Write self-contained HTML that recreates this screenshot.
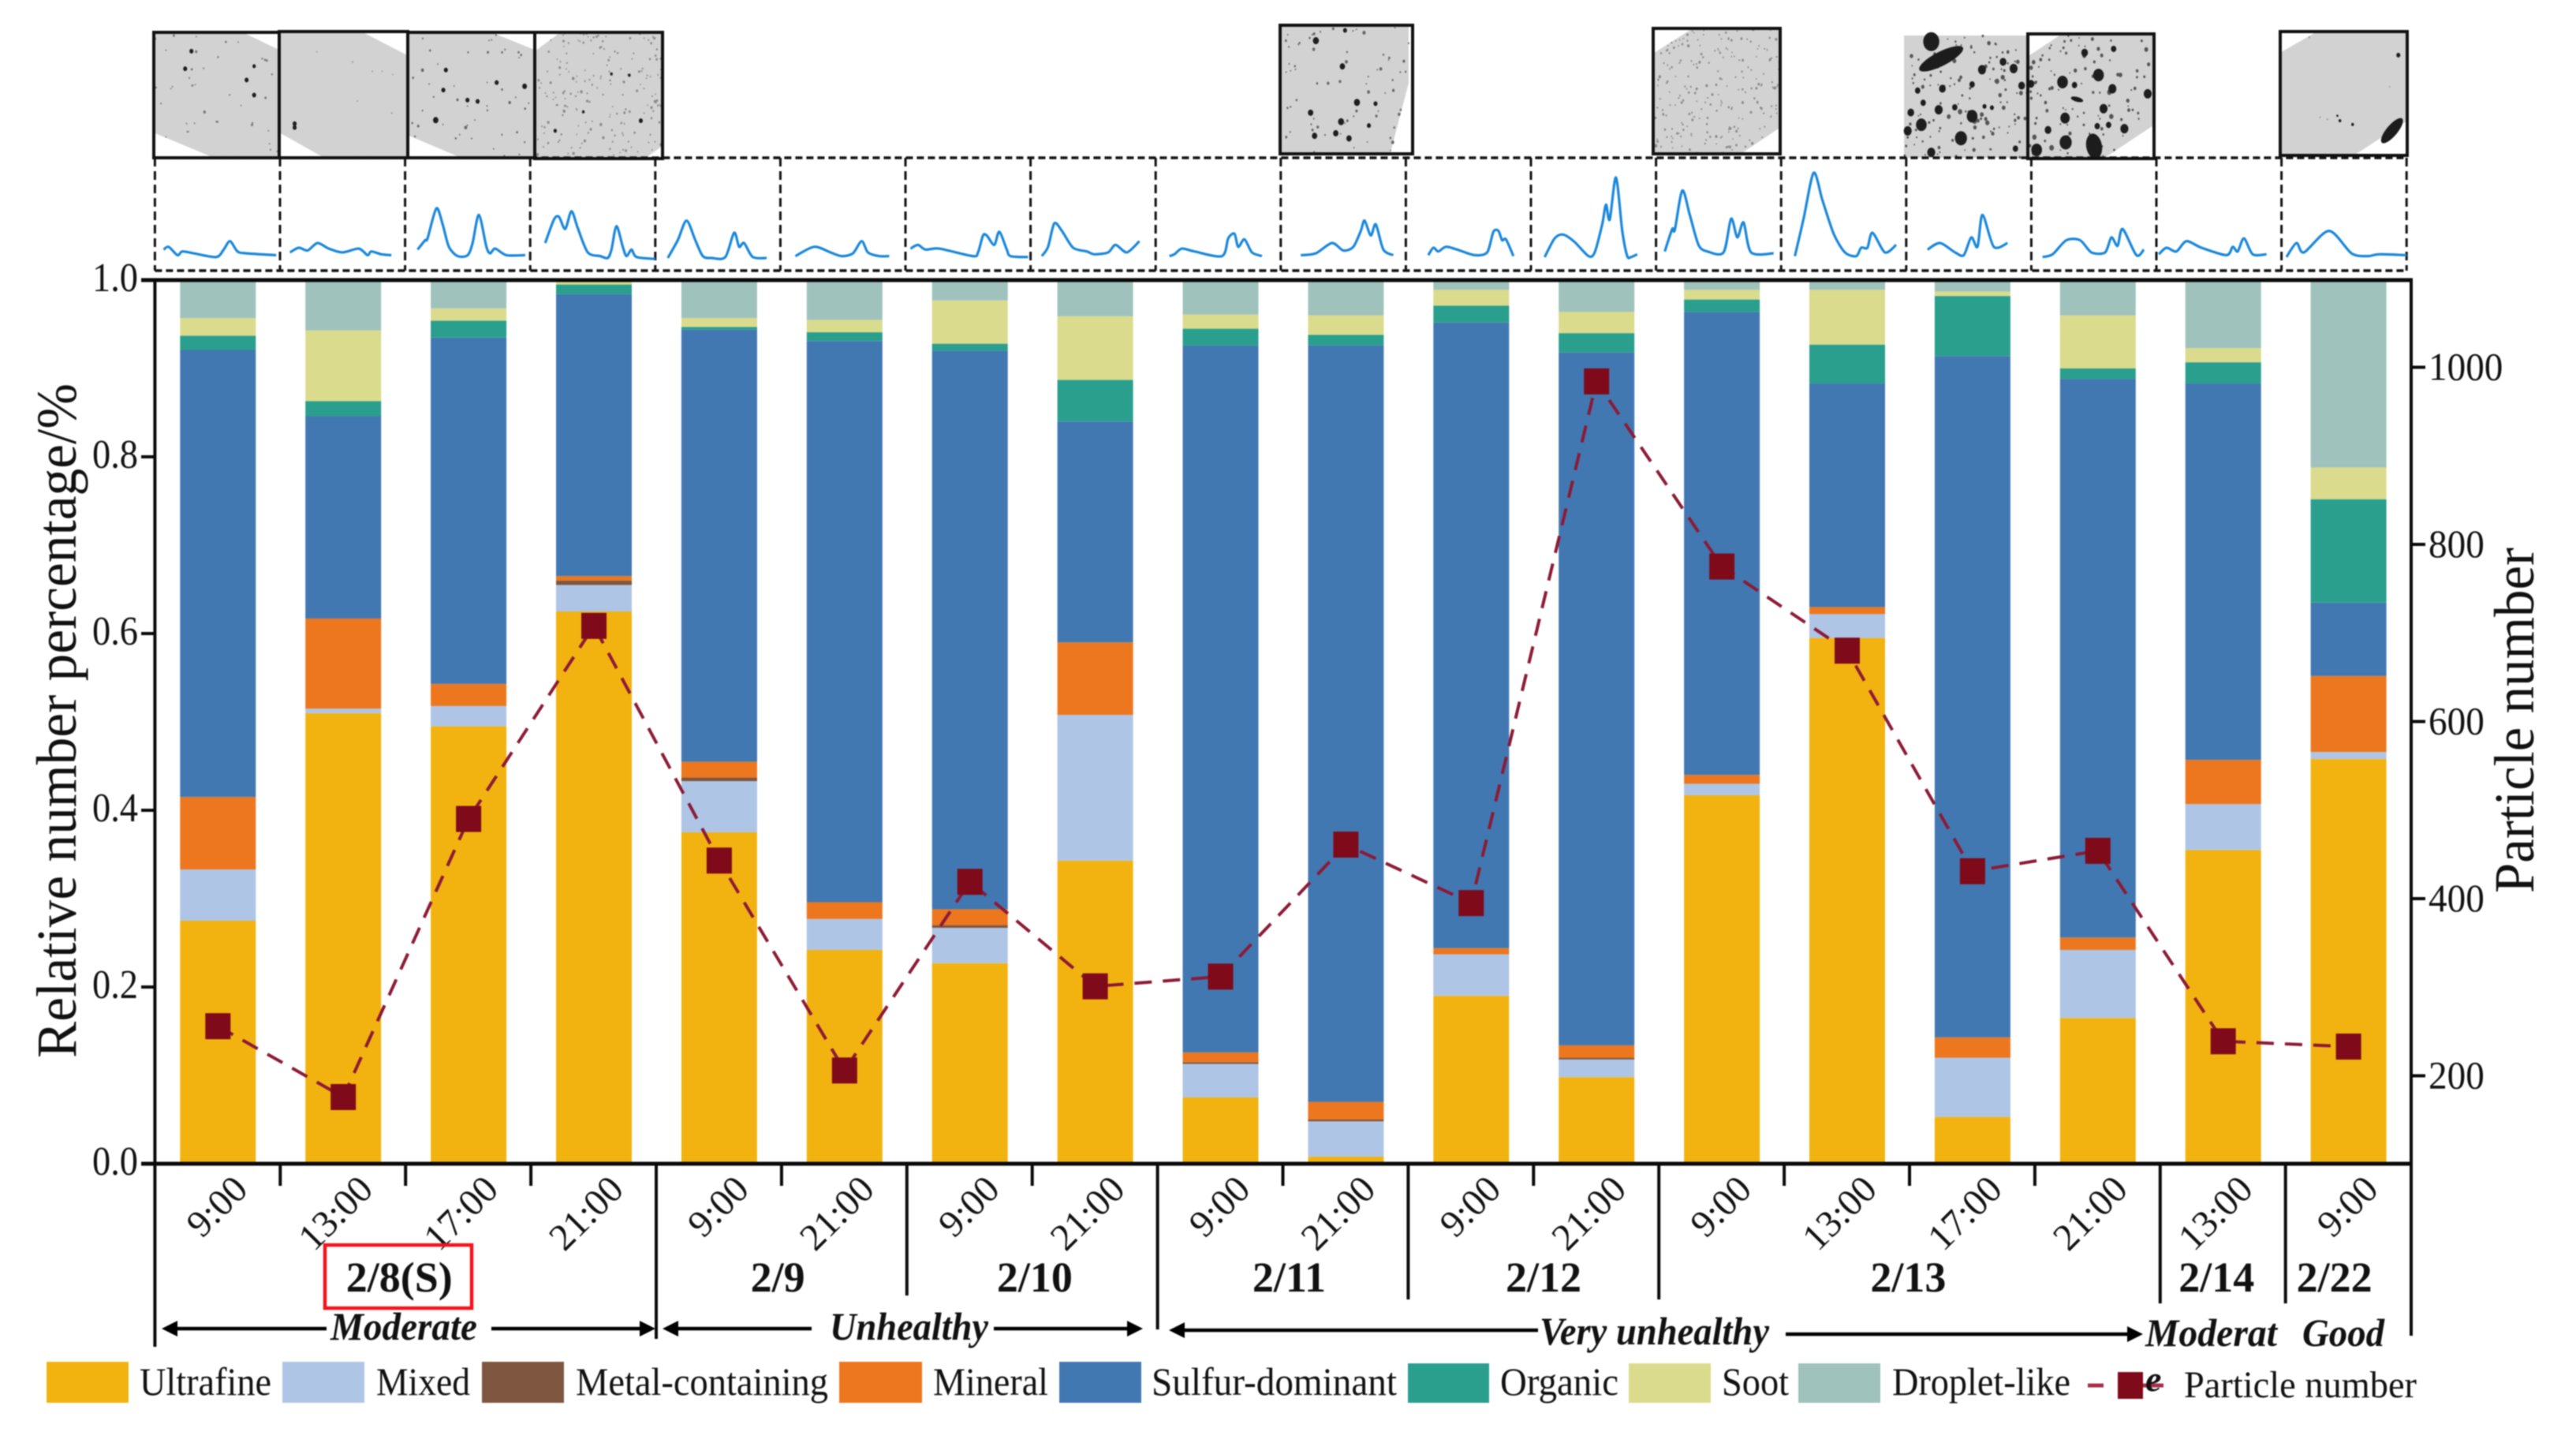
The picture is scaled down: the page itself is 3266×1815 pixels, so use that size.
<!DOCTYPE html>
<html lang="en">
<head>
<meta charset="utf-8">
<title>Particle types and number</title>
<style>
html,body{margin:0;padding:0;background:#fff;width:3266px;height:1815px;overflow:hidden}
svg{display:block;filter:blur(.7px)}
text{font-family:"Liberation Serif",serif;fill:#111}
</style>
</head>
<body>
<svg id="chart" xmlns="http://www.w3.org/2000/svg" width="3266" height="1815" viewBox="0 0 3266 1815">
  <g id="tem"></g>
  <g id="spectra"></g>
  <g id="bars"></g>
  <g id="line"></g>
  <g id="axes"></g>

  <text transform="translate(96,1341) rotate(-90)" font-size="72" textLength="855" lengthAdjust="spacingAndGlyphs">Relative number percentage/%</text>
  <text transform="translate(3212,1132) rotate(-90)" font-size="72" textLength="438" lengthAdjust="spacingAndGlyphs">Particle number</text>

  <rect x="412" y="1578" width="186" height="80" fill="none" stroke="#f0141e" stroke-width="4.5"/>

  <g font-weight="bold" font-style="italic" font-size="50">
    <text x="419" y="1698" textLength="186" lengthAdjust="spacingAndGlyphs">Moderate</text>
    <text x="1052" y="1698" textLength="201" lengthAdjust="spacingAndGlyphs">Unhealthy</text>
    <text x="1952" y="1704" textLength="291" lengthAdjust="spacingAndGlyphs">Very unhealthy</text>
    <text x="2720" y="1706" textLength="167" lengthAdjust="spacingAndGlyphs">Moderat</text>
    <text x="2919" y="1706" textLength="104" lengthAdjust="spacingAndGlyphs">Good</text>
  </g>

  <g stroke="#000" stroke-width="4.5" fill="#000">
    <line x1="414" y1="1684" x2="215" y2="1684"/><path d="M205 1684l20-10v20z" stroke="none"/>
    <line x1="623" y1="1684" x2="822" y2="1684"/><path d="M831 1684l-20-10v20z" stroke="none"/>
    <line x1="1029" y1="1684" x2="850" y2="1684"/><path d="M840 1684l20-10v20z" stroke="none"/>
    <line x1="1260" y1="1684" x2="1440" y2="1684"/><path d="M1449 1684l-20-10v20z" stroke="none"/>
    <line x1="1950" y1="1686" x2="1492" y2="1686"/><path d="M1482 1686l20-10v20z" stroke="none"/>
    <line x1="2264" y1="1691" x2="2708" y2="1691"/><path d="M2717 1691l-20-10v20z" stroke="none"/>
  </g>

  <g font-size="50">
    <g><rect x="59" y="1726" width="104" height="52" fill="#f2b311"/><text x="177" y="1768" textLength="167" lengthAdjust="spacingAndGlyphs">Ultrafine</text></g>
    <g><rect x="358" y="1726" width="104" height="52" fill="#aec5e6"/><text x="477" y="1768" textLength="119" lengthAdjust="spacingAndGlyphs">Mixed</text></g>
    <g><rect x="611" y="1726" width="104" height="52" fill="#7f563f"/><text x="730" y="1768" textLength="320" lengthAdjust="spacingAndGlyphs">Metal-containing</text></g>
    <g><rect x="1064" y="1726" width="105" height="52" fill="#ec771e"/><text x="1183" y="1768" textLength="146" lengthAdjust="spacingAndGlyphs">Mineral</text></g>
    <g><rect x="1343" y="1726" width="104" height="52" fill="#4278b1"/><text x="1460" y="1768" textLength="311" lengthAdjust="spacingAndGlyphs">Sulfur-dominant</text></g>
    <g><rect x="1785" y="1728" width="103" height="50" fill="#2a9f8d"/><text x="1902" y="1768" textLength="150" lengthAdjust="spacingAndGlyphs">Organic</text></g>
    <g><rect x="2065" y="1728" width="104" height="50" fill="#dadb8c"/><text x="2183" y="1768" textLength="85" lengthAdjust="spacingAndGlyphs">Soot</text></g>
    <g><rect x="2280" y="1728" width="104" height="50" fill="#9fc3bc"/><text x="2399" y="1768" textLength="226" lengthAdjust="spacingAndGlyphs">Droplet-like</text></g>
    <g>
      <line x1="2647" y1="1756" x2="2667" y2="1756" stroke="#a8304c" stroke-width="5"/>
      <line x1="2717" y1="1756" x2="2743" y2="1756" stroke="#a8304c" stroke-width="5"/>
      <rect x="2685" y="1739" width="32" height="34" fill="#7f0a1a"/>
      <text x="2720" y="1763" font-size="46" font-weight="bold" font-style="italic">e</text>
      <text x="2769" y="1771" font-size="48" textLength="295" lengthAdjust="spacingAndGlyphs">Particle number</text>
    </g>
  </g>
</svg>

<script>
// ---- chart data ----
const timeLabels = ["9:00","13:00","17:00","21:00","9:00","21:00","9:00","21:00","9:00","21:00","9:00","21:00","9:00","13:00","17:00","21:00","13:00","9:00"];
const ultrafine = [.275,.51,.495,.625,.375,.242,.227,.343,.075,.008,.19,.098,.417,.595,.053,.165,.355,.458];
const mixed     = [.058,.005,.023,.03,.058,.035,.04,.165,.038,.04,.047,.02,.013,.027,.067,.077,.052,.008];
const metal     = [0,0,0,.005,.004,0,.003,0,.002,.002,0,.002,0,0,0,0,0,0];
const mineral   = [.082,.102,.025,.005,.018,.019,.018,.082,.011,.02,.007,.014,.01,.008,.023,.014,.05,.086];
const sulfur    = [.506,.229,.392,.319,.489,.635,.632,.25,.8,.856,.708,.784,.524,.253,.771,.632,.426,.083];
const organic   = [.016,.017,.019,.011,.003,.01,.008,.047,.019,.012,.019,.022,.014,.044,.068,.012,.024,.117];
const soot      = [.02,.08,.014,.003,.01,.014,.049,.072,.016,.022,.018,.024,.011,.062,.005,.06,.016,.036];
const droplet   = [.043,.057,.032,.002,.043,.045,.023,.041,.039,.04,.011,.036,.011,.011,.013,.04,.077,.212];
const particleNumber = [256,176,490,708,443,206,419,301,312,461,395,984,775,680,431,454,239,233];
const leftTicks = ["0.0","0.2","0.4","0.6","0.8","1.0"];
const rightTicks = ["200","400","600","800","1000"];
const dateLabels = ["2/8(S)","2/9","2/10","2/11","2/12","2/13","2/14","2/22"];
const dateSlots = [1.95,4.97,7.02,9.05,11.08,13.99,16.45,17.39];

// spectra: [channel 0-100, relative intensity] traced per sample
const spectraData = [
[[7,20],[11,23],[18,14],[22,18],[31,16],[49,12],[55,20],[60,29],[66,18],[73,16],[97,14]],
[[8,17],[15,22],[22,19],[30,27],[39,21],[50,17],[63,21],[70,14],[73,18],[81,15],[89,14]],
[[10,20],[16,30],[18,32],[25,64],[30,47],[35,23],[42,13],[50,14],[54,27],[59,57],[65,23],[68,16],[72,21],[81,14],[96,14]],
[[12,27],[19,52],[23,55],[28,42],[33,61],[38,43],[46,17],[56,13],[62,11],[65,20],[69,45],[74,23],[77,13],[81,20],[85,12],[100,10]],
[[10,11],[18,30],[25,51],[32,30],[38,13],[45,11],[56,12],[63,38],[67,23],[71,27],[78,12],[89,11]],
[[12,13],[27,23],[40,17],[49,13],[58,16],[65,29],[70,17],[79,13],[87,13]],
[[4,21],[10,25],[16,20],[27,21],[54,13],[58,17],[62,35],[65,35],[71,25],[75,39],[81,20],[84,13],[98,12]],
[[9,13],[14,23],[19,48],[25,40],[34,22],[45,18],[51,15],[62,17],[68,25],[77,17],[87,29]],
[[11,13],[15,15],[21,21],[31,18],[53,13],[58,32],[63,37],[66,23],[71,31],[77,17],[85,13]],
[[16,14],[28,16],[41,27],[50,19],[58,23],[64,40],[67,51],[72,35],[76,47],[82,20],[90,14]],
[[18,14],[22,22],[26,18],[32,23],[41,20],[55,14],[65,17],[70,39],[74,40],[77,30],[80,31],[86,13]],
[[11,12],[19,32],[26,36],[35,28],[46,13],[51,17],[57,47],[60,68],[63,52],[68,97],[73,40],[77,13],[80,12],[85,15]],
[[7,18],[13,42],[15,41],[21,83],[27,57],[34,25],[41,18],[54,17],[60,53],[65,33],[70,49],[76,17],[94,16]],
[[11,13],[18,53],[26,102],[33,73],[42,37],[51,17],[60,13],[64,22],[69,22],[73,38],[83,17],[92,25]],
[[17,20],[27,27],[39,17],[46,14],[52,33],[57,23],[61,57],[70,23],[81,27]],
[[9,12],[17,15],[28,30],[39,30],[48,17],[59,17],[64,33],[69,24],[73,42],[84,14],[90,20]],
[[2,15],[8,22],[16,18],[24,29],[36,22],[56,14],[61,23],[65,18],[70,32],[77,15],[88,15]],
[[4,12],[12,27],[18,17],[38,40],[56,16],[69,13],[78,15],[100,14]]
];

// ---- scales ----
const svgNS = "http://www.w3.org/2000/svg";
const yTop = 355, yBottom = 1475, axisLeft = 196.4, axisRight = 3057;
const firstBar = 276.3, barStep = 158.9, barWidth = 96;
const gridStep = 158.9, specStep = 158.6;
const countMin = 100.7, countMax = 1098.4;
const yPct = v => yBottom - v * (yBottom - yTop);
const yCount = c => yBottom - (c - countMin) / (countMax - countMin) * (yBottom - yTop);
const xBar = i => firstBar + i * barStep;
const xGrid = k => axisLeft + k * gridStep;
const xSpec = (k, ch) => axisLeft + k * specStep + ch / 100 * specStep;
const ySpec = inten => (860 - 3 * inten) / 2.529;

function mk(tag, parent, attrs) {
  const el = document.createElementNS(svgNS, tag);
  for (const k in attrs) el.setAttribute(k, attrs[k]);
  parent.appendChild(el);
  return el;
}

// ---- stacked bars ----
const stackOrder = [
  ["ultrafine", ultrafine, "#f2b311"],
  ["mixed", mixed, "#aec5e6"],
  ["metal", metal, "#7f563f"],
  ["mineral", mineral, "#ec771e"],
  ["sulfur", sulfur, "#4278b1"],
  ["organic", organic, "#2a9f8d"],
  ["soot", soot, "#dadb8c"],
  ["droplet", droplet, "#9fc3bc"]
];
const barsG = document.getElementById("bars");
timeLabels.forEach((t, i) => {
  let cum = 0;
  stackOrder.forEach(s => {
    const v = s[1][i];
    const r = mk("rect", barsG, {x: xBar(i) - barWidth / 2, y: yPct(cum + v), width: barWidth, height: Math.max(0, yPct(cum) - yPct(cum + v)), fill: s[2]});
    
    
    cum += v;
  });
});

// ---- particle number line ----
const lineG = document.getElementById("line");
const lineEl = mk("polyline", lineG, {
  points: particleNumber.map((c, i) => xBar(i) + "," + yCount(c)).join(" "),
  fill: "none", stroke: "#8b1a36", "stroke-width": 4, "stroke-dasharray": "22 14"
});


particleNumber.forEach((c, i) => {
  const m = mk("rect", lineG, {x: xBar(i) - 16, y: yCount(c) - 16.5, width: 32, height: 33, fill: "#7f0a1a"});
  
  
});

// ---- axes ----
const axesG = document.getElementById("axes");
function line(x1, y1, x2, y2, w, name) {
  const l = mk("line", axesG, {x1, y1, x2, y2, stroke: "#0a0a0a", "stroke-width": w});
  
  
}
line(179, yTop, axisRight + 2, yTop, 5, "top-axis-line");
line(179, yBottom, axisRight + 2, yBottom, 5, "x-axis-line");
line(axisLeft, yTop, axisLeft, 1707, 4, "left-axis-line");
line(axisRight, yTop, axisRight, 1693, 4, "right-axis-line");

leftTicks.forEach(t => {
  const y = yPct(parseFloat(t));
  line(179, y, axisLeft, y, 4, "left-tick");
  const tx = mk("text", axesG, {x: 175, y: y + 14, "font-size": 52, "text-anchor": "end", textLength: 58, lengthAdjust: "spacingAndGlyphs"});
  tx.textContent = t;
  
  
});
rightTicks.forEach(t => {
  const y = yCount(parseFloat(t));
  line(axisRight, y, 3075, y, 4, "right-tick");
  const tx = mk("text", axesG, {x: 3079, y: y + 16, "font-size": 50, textLength: t.length * 23.6, lengthAdjust: "spacingAndGlyphs"});
  tx.textContent = t;
  
  
});

// separators under the x axis (index along the slots -> bottom end)
const separatorEnds = [null,1503,1503,1503,1697,1503,1642,1503,1685,1503,1647,1503,1647,1503,1503,1503,1652,1652];
separatorEnds.forEach((end, k) => {
  if (end) line(xGrid(k), yBottom, xGrid(k), end, 4, "x-separator");
});

timeLabels.forEach((t, i) => {
  const px = xBar(i) + 40, py = 1510;
  const tx = mk("text", axesG, {transform: "translate(" + px + "," + py + ") rotate(-45)", "font-size": 48, "text-anchor": "end"});
  tx.textContent = t;
  
  
});

dateLabels.forEach((d, i) => {
  const cx = axisLeft + dateSlots[i] * gridStep;
  const tx = mk("text", axesG, {x: cx, y: 1637, "font-size": 54, "font-weight": "bold", "text-anchor": "middle"});
  tx.textContent = d;
  
  
});

// ---- spectra row ----
const specG = document.getElementById("spectra");
const specTop = 200, specBottom = 343;
for (let k = 0; k <= 18; k++) {
  const v = mk("line", specG, {x1: xSpec(k, 0), y1: specTop, x2: xSpec(k, 0), y2: specBottom, stroke: "#111", "stroke-width": 3, "stroke-dasharray": "11 6"});
  
  
}
[specTop, specBottom].forEach(y => {
  const h = mk("line", specG, {x1: xSpec(0, 0), y1: y, x2: xSpec(18, 0), y2: y, stroke: "#111", "stroke-width": 3.5, "stroke-dasharray": "9 5"});
  
  
});
function smooth(p) {
  let d = "M" + p[0][0] + " " + p[0][1];
  for (let i = 0; i < p.length - 1; i++) {
    const a = p[Math.max(i - 1, 0)], b = p[i], c = p[i + 1], e = p[Math.min(i + 2, p.length - 1)];
    const t = 0.14;
    d += "C" + (b[0] + (c[0] - a[0]) * t).toFixed(1) + " " + (b[1] + (c[1] - a[1]) * t).toFixed(1) + " " +
      (c[0] - (e[0] - b[0]) * t).toFixed(1) + " " + (c[1] - (e[1] - b[1]) * t).toFixed(1) + " " + c[0].toFixed(1) + " " + c[1].toFixed(1);
  }
  return d;
}
spectraData.forEach((pts, k) => {
  const p = mk("path", specG, {d: smooth(pts.map(q => [xSpec(k, q[0]), ySpec(q[1])])), fill: "none", stroke: "#1a87d8", "stroke-width": 3.2, "stroke-linejoin": "round"});
  
  
});

// ---- TEM micrographs (decorative texture) ----
const temG = document.getElementById("tem");
const temImages = [
 {x:195,y:41,w:159,h:159,poly:[[0,0],[.71,0],[1,.14],[1,1],[.48,1],[0,.8]],n:40,rMax:1,speck:"#777",big:[[.3,.15,3],[.25,.29,3],[.74,.38,3],[.8,.5,3],[.8,.27,2.5]],frame:1},
 {x:354,y:40,w:163,h:160,poly:[[0,0],[.64,0],[1,.19],[1,1],[.35,1],[0,.8]],n:8,rMax:.6,speck:"#999",big:[[.12,.73,3],[.12,.76,3]],frame:1},
 {x:517,y:41,w:161,h:159,poly:[[0,0],[.66,0],[1,.14],[1,1],[.42,1],[0,.82]],n:50,rMax:1.2,speck:"#666",big:[[.3,.3,3],[.47,.54,3],[.55,.55,3],[.22,.7,4],[.7,.4,3],[.92,.43,3.5],[.28,.46,3]],frame:1},
 {x:678,y:41,w:162,h:160,poly:[[.2,0],[1,0],[1,.9],[.86,1],[0,1],[0,.15]],n:190,rMax:1,speck:"#8a8a8a",big:[[.83,.7,3],[.16,.78,2.5],[.6,.33,2],[.74,.34,2],[.38,.63,2]],frame:1},
 {x:1623,y:32,w:168,h:163,poly:[[0,0],[.97,0],[.97,.45],[.83,1],[0,1]],n:70,rMax:1.4,speck:"#666",big:[[.27,.12,4.5],[.47,.32,4],[.58,.6,4.5],[.23,.68,4],[.46,.75,4.5],[.26,.86,4],[.42,.84,4],[.52,.88,4],[.67,.78,3],[.72,.61,3],[.49,.04,3]],frame:1},
 {x:2096,y:36,w:161,h:159,poly:[[.31,0],[1,0],[1,.79],[.69,1],[0,1],[0,.2]],n:230,rMax:1,speck:"#8a8a8a",big:[],frame:1},
 {x:2414,y:45,w:157,h:155,poly:[[0,0],[1,0],[1,1],[0,1]],n:130,rMax:2.4,speck:"#555",big:[[.22,.05,12],[.63,.28,6],[.885,.27,6],[.8,.215,5],[.31,.435,5],[.55,.4,4],[.28,.607,6],[.41,.587,4],[.55,.66,8],[.14,.73,8],[.03,.78,6],[.46,.84,9],[.055,.63,5],[.22,.956,6],[.95,.41,5],[.11,.45,4],[.155,.55,4],[.9,.925,4],[.65,.58,3],[.71,.59,3]],blobs:[[.3,.19,31,9,-27]],frame:0},
 {x:2571,y:43,w:160,h:158,poly:[[.27,0],[.98,0],[1,.05],[1,.73],[.6,1],[0,1],[0,.18]],n:120,rMax:2.4,speck:"#555",big:[[.275,.386,8],[.56,.33,8],[.67,.44,6],[.95,.48,6],[.45,.15,5],[.37,.41,4],[.3,.87,9],[.765,.76,6],[.6,.6,6],[.16,.77,5],[.295,.675,7],[.07,.93,8],[.64,.73,4],[.55,.74,4],[.68,.12,4],[.025,.4,5]],blobs:[[.525,.9,10,16,-10],[.39,.525,8,3,15]],frame:1},
 {x:2891,y:40,w:161,h:157,poly:[[.29,0],[1,0],[1,.72],[.58,1],[0,1],[0,.17]],n:4,rMax:.5,speck:"#999",big:[[.93,.19,3],[.47,.72,2],[.57,.75,2],[.45,.68,1.5]],blobs:[[.88,.8,20,7,-50]],frame:1}
];
let seed = 12345;
function rnd() { seed = (seed * 16807) % 2147483647; return seed / 2147483647; }
function inside(poly, x, y) {
  let c = false;
  for (let i = 0, j = poly.length - 1; i < poly.length; j = i++) {
    const a = poly[i], b = poly[j];
    if ((a[1] > y) !== (b[1] > y) && x < (b[0] - a[0]) * (y - a[1]) / (b[1] - a[1]) + a[0]) c = !c;
  }
  return c;
}
temImages.forEach(img => {
  const g = mk("g", temG, {});
  
  
  mk("polygon", g, {points: img.poly.map(q => (img.x + q[0] * img.w) + "," + (img.y + q[1] * img.h)).join(" "), fill: "#d2d2d2"});
  for (let i = 0; i < img.n; i++) {
    const u = rnd(), v = rnd(), r = 0.8 + rnd() * rnd() * img.rMax;
    if (inside(img.poly, u, v)) mk("ellipse", g, {cx: img.x + u * img.w, cy: img.y + v * img.h, rx: r, ry: r * 1.2, fill: img.speck});
  }
  img.big.forEach(b => mk("ellipse", g, {cx: img.x + b[0] * img.w, cy: img.y + b[1] * img.h, rx: b[2] * .85, ry: b[2], fill: "#1e1e1e"}));
  (img.blobs || []).forEach(b => {
    const cx = img.x + b[0] * img.w, cy = img.y + b[1] * img.h;
    mk("ellipse", g, {cx, cy, rx: b[2], ry: b[3], fill: "#1c1c1c", transform: "rotate(" + b[4] + " " + cx + " " + cy + ")"});
  });
  if (img.frame) mk("rect", g, {x: img.x, y: img.y, width: img.w, height: img.h, fill: "none", stroke: "#111", "stroke-width": 4});
});
</script>
</body>
</html>
